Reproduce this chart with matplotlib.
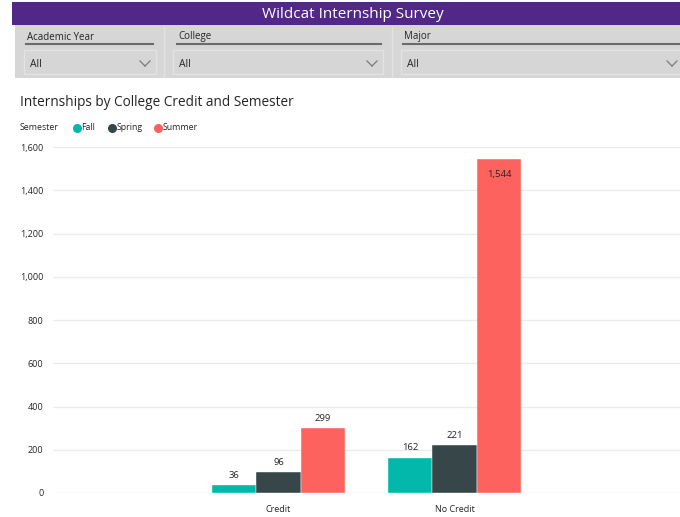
import matplotlib.pyplot as plt
from matplotlib.patches import Rectangle
from matplotlib.lines import Line2D

# --- Data ---
categories = ['Credit', 'No Credit']
semesters = ['Fall', 'Spring', 'Summer']
fall = [36, 162]
spring = [96, 221]
summer = [299, 1544]
yticks = [0, 200, 400, 600, 800, 1000, 1200, 1400, 1600]

filters = ['Academic Year', 'College', 'Major']
filter_values = ['All', 'All', 'All']

colors = ['#01B8AA', '#374649', '#FD625E']

W, H = 680, 517
plt.rcParams['font.family'] = ['Open Sans', 'DejaVu Sans']

fig = plt.figure(figsize=(W / 100, H / 100), dpi=100)
fig.patch.set_facecolor('white')


def fx(x):
    return x / W


def fy(y):
    return 1 - y / H


def frect(x0, y0, x1, y1, **kw):
    fig.add_artist(Rectangle((fx(x0), fy(y1)), fx(x1) - fx(x0), fy(y0) - fy(y1),
                             transform=fig.transFigure, **kw))


def fline(x0, y0, x1, y1, **kw):
    fig.add_artist(Line2D([fx(x0), fx(x1)], [fy(y0), fy(y1)], transform=fig.transFigure, **kw))


# --- Header and filter panel ---
frect(12, 2, 680, 25, facecolor='#512888', edgecolor='none')
fig.text(fx(353), fy(14), 'Wildcat Internship Survey', color='white', fontsize=11,
         ha='center', va='center')
frect(15, 25, 680, 78, facecolor='#D6D6D6', edgecolor='none')

# panels: (label x, underline end, box x0, box x1, chevron x)
panels = [(27, 153, 24, 156, 145), (178, 381, 173, 383, 372), (404, 680, 401, 690, 672)]
for (lx, ux, bx0, bx1, cx), name, val in zip(panels, filters, filter_values):
    fig.text(fx(lx), fy(37), name, fontsize=7, color='#252423', ha='left', va='center')
    fline(lx - 1, 43.5, ux, 43.5, color='#6B6B6B', lw=1.5)
    frect(bx0, 50, bx1, 74, facecolor='none', edgecolor='#E3E3E3', lw=1)
    fig.text(fx(bx0 + 6), fy(64.5), val, fontsize=7.5, color='#252423', ha='left', va='center')
    fline(cx - 5, 61, cx, 66, color='#7A7A7A', lw=0.9)
    fline(cx, 66, cx + 5, 61, color='#7A7A7A', lw=0.9)
for dx in (164, 392):
    fline(dx, 27, dx, 77, color='#E2E2E2', lw=1)

# --- Chart title and legend ---
fig.text(fx(20), fy(102), 'Internships by College Credit and Semester', fontsize=9.8,
         color='#252423', ha='left', va='center')
fig.text(fx(20), fy(128), 'Semester', fontsize=6.3, color='#252423', ha='left', va='center')
for mx, name, c in zip([77, 112, 158], semesters, colors):
    fig.add_artist(Line2D([fx(mx)], [fy(128)], marker='o', markersize=5.5, color=c,
                          linestyle='none', transform=fig.transFigure))
    fig.text(fx(mx + 4.5), fy(128), name, fontsize=6.3, color='#252423', ha='left', va='center')

# --- Bars ---
ax = fig.add_axes([fx(53), fy(493), 1 - fx(53), fy(147) - fy(493)])
width = 0.252
x = list(range(len(categories)))
series = [fall, spring, summer]
for i, (vals, c) in enumerate(zip(series, colors)):
    pos = [xi + (i - 1) * width for xi in x]
    bars = ax.bar(pos, vals, width=width, color=c, edgecolor='white', linewidth=0.3, zorder=3)
    for b, v in zip(bars, vals):
        if v > 1400:
            ax.annotate(f'{v:,}', (b.get_x() + b.get_width() / 2, v), xytext=(0, -8),
                        textcoords='offset points', ha='center', va='top', fontsize=6.8,
                        color='#252423')
        else:
            ax.annotate(f'{v:,}', (b.get_x() + b.get_width() / 2, v), xytext=(0, 4),
                        textcoords='offset points', ha='center', va='bottom', fontsize=6.8,
                        color='#252423')

ax.set_xlim(-1.281, 2.281)
ax.set_ylim(0, 1600)
ax.set_yticks(yticks)
ax.set_yticklabels([f'{t:,}' for t in yticks])
ax.set_xticks(x)
ax.set_xticklabels(categories)
ax.tick_params(axis='both', length=0, labelsize=6.5, labelcolor='#252423')
ax.tick_params(axis='y', pad=7)
ax.tick_params(axis='x', pad=9)
ax.grid(axis='y', color='#EBEBEB', lw=1, zorder=0)
for s in ax.spines.values():
    s.set_visible(False)
ax.set_facecolor('none')

fig.savefig('out.png', dpi=100)
